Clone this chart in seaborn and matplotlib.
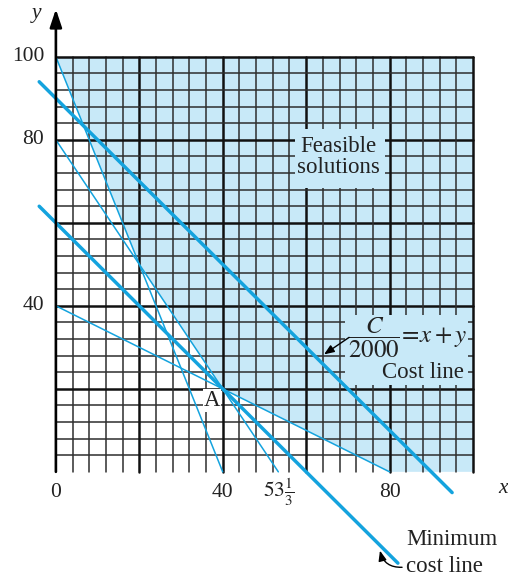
import numpy as np
import pandas as pd
import matplotlib
matplotlib.use("Agg")
import matplotlib.pyplot as plt
import seaborn as sns
from matplotlib.patches import Rectangle

# ---- data ----
constraint_names = ["c1", "c2", "c3"]
constraint_x = [[0, 40], [0, 53.333], [0, 80]]
constraint_y = [[100, 0], [80, 0], [40, 0]]

cost_line_x = [-4, 95]
cost_line_y = [94, -5]
min_cost_x = [-4, 82]
min_cost_y = [64, -22]

feasible_x = [0, 20, 40, 80, 100, 100]
feasible_y = [100, 50, 20, 0, 0, 100]

y_tick_vals = [100, 80, 40]
y_tick_labels = ["100", "80", "40"]
x_tick_vals = [0, 40, 53.333, 80]
x_tick_labels = ["0", "40", r"$53\frac{1}{3}$", "80"]

point_A = (40, 20)

# ---- style ----
sns.set_theme(style="white")
plt.rcParams["font.family"] = ["Liberation Serif", "DejaVu Serif"]
plt.rcParams["mathtext.fontset"] = "stix"

BLUE = "#14a3de"
SHADE = "#c8e9f8"
FS = 16.5
FT = 15.5
TXT = "#222222"

fig = plt.figure(figsize=(5.08, 5.76), dpi=100)
ax = fig.add_axes([0, 0, 1, 1])

# feasible region
ax.fill(feasible_x, feasible_y, color=SHADE, zorder=1, lw=0)

# grid
for v in range(4, 101, 4):
    major = v % 20 == 0
    c = "#111111" if major else "#2e2e2e"
    lw = 1.8 if major else 1.1
    ax.plot([v, v], [0, 100], color=c, lw=lw, zorder=2)
    ax.plot([0, 100], [v, v], color=c, lw=lw, zorder=2)

# axes with arrows
ax.annotate("", xy=(0, 111.5), xytext=(0, 0),
            arrowprops=dict(arrowstyle="-|>,head_length=0.9,head_width=0.3",
                            color="black", lw=1.9, shrinkA=0, shrinkB=0), zorder=5)
ax.annotate("", xy=(108.6, 0), xytext=(0, 0),
            arrowprops=dict(arrowstyle="-|>,head_length=0.9,head_width=0.3",
                            color="black", lw=1.9, shrinkA=0, shrinkB=0), zorder=5)

# constraint lines
rows = []
for n, xs, ys in zip(constraint_names, constraint_x, constraint_y):
    for xv, yv in zip(xs, ys):
        rows.append({"name": n, "x": xv, "y": yv})
df = pd.DataFrame(rows)
sns.lineplot(data=df, x="x", y="y", units="name", estimator=None, sort=False,
             color=BLUE, lw=1.1, ax=ax, zorder=4)

sns.lineplot(x=cost_line_x, y=cost_line_y, color=BLUE, lw=2.5, ax=ax, zorder=4, sort=False)
sns.lineplot(x=min_cost_x, y=min_cost_y, color=BLUE, lw=2.5, ax=ax, zorder=4, sort=False)
ax.set_xlim(-13.4, 108.4)
ax.set_ylim(-25.1, 113.7)
ax.axis("off")

# label boxes
ax.add_patch(Rectangle((57.3, 68.4), 21.6, 14.2, facecolor=SHADE, edgecolor="none", zorder=3))
ax.text(67.8, 75.8, "Feasible\nsolutions", ha="center", va="center", fontsize=FS,
        color=TXT, linespacing=1.0, zorder=6)

ax.add_patch(Rectangle((69.3, 21.0), 29.5, 16.8, facecolor=SHADE, edgecolor="none", zorder=3))
ax.text(84.3, 32.3, r"$\dfrac{C}{2000}\!=\!x+y$", ha="center", va="center", fontsize=18,
        color=TXT, zorder=6)
ax.text(97.8, 24.0, "Cost line", ha="right", va="center", fontsize=FS, color=TXT, zorder=6)
ax.annotate("", xy=(64.3, 28.3), xytext=(70.3, 32.4),
            arrowprops=dict(arrowstyle="-|>,head_length=0.5,head_width=0.2",
                            color="black", lw=1.0, shrinkA=0, shrinkB=0), zorder=6)

# point A
ax.text(37.4, 17.2, "A", ha="center", va="center", fontsize=FS, color=TXT, zorder=6,
        bbox=dict(facecolor="white", edgecolor="none", pad=0.5))

# minimum cost line label
ax.text(84.0, -16.3, "Minimum", ha="left", va="center", fontsize=FS, color=TXT)
ax.text(84.0, -22.9, "cost line", ha="left", va="center", fontsize=FS, color=TXT)
ax.annotate("", xy=(77.7, -19.0), xytext=(83.0, -23.0),
            arrowprops=dict(arrowstyle="-|>,head_length=0.5,head_width=0.2",
                            connectionstyle="arc3,rad=-0.4",
                            color="black", lw=1.0, shrinkA=0, shrinkB=0))

# tick labels
for v, t in zip(y_tick_vals, y_tick_labels):
    ax.text(-2.8, v, t, ha="right", va="center", fontsize=FT, color=TXT)
for v, t in zip(x_tick_vals, x_tick_labels):
    ax.text(v, -4.9, t, ha="center", va="center", fontsize=FT, color=TXT)

# axis names
ax.text(-4.6, 110.4, "y", ha="center", va="center", fontsize=FT, style="italic", color=TXT)
ax.text(108.3, -4.0, "x", ha="right", va="center", fontsize=FT, style="italic", color=TXT)

fig.savefig("out.png", dpi=100)
